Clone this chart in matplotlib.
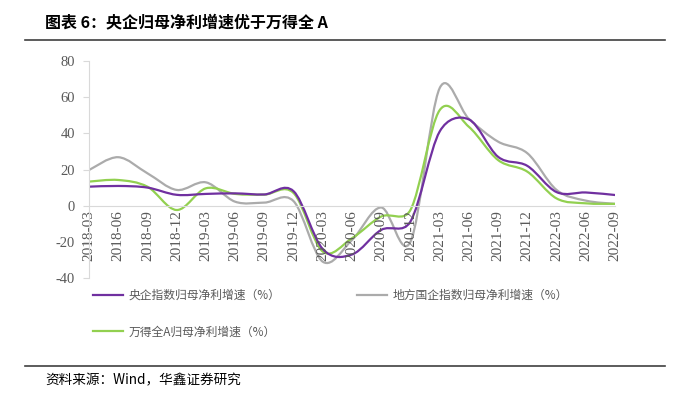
import matplotlib
matplotlib.use("Agg")
import matplotlib.pyplot as plt
from matplotlib.path import Path
from matplotlib.patches import PathPatch
from matplotlib.lines import Line2D
import numpy as np

plt.rcParams['font.family'] = ['Noto Sans CJK SC', 'DejaVu Sans']

quarters = ['2018-03', '2018-06', '2018-09', '2018-12', '2019-03', '2019-06',
            '2019-09', '2019-12', '2020-03', '2020-06', '2020-09', '2020-12',
            '2021-03', '2021-06', '2021-09', '2021-12', '2022-03', '2022-06',
            '2022-09']

central_soe = [10.5, 10.9, 10.0, 6.0, 6.5, 6.8, 6.2, 8.0, -24.0, -27.0, -13.4,
               -8.8, 41.0, 47.7, 27.0, 22.0, 7.5, 7.3, 5.9]
local_soe = [19.7, 26.8, 17.9, 8.7, 12.9, 2.2, 1.7, 2.5, -31.0, -19.0, -1.0,
             -20.0, 65.0, 48.0, 35.4, 29.0, 8.7, 2.8, 1.0]
wind_all_a = [13.3, 14.2, 10.5, -2.4, 9.6, 6.5, 6.1, 7.0, -25.4, -18.0, -6.0,
              -2.4, 52.8, 43.6, 25.2, 18.8, 4.0, 1.3, 1.0]

labels = ['央企指数归母净利增速（%）', '地方国企指数归母净利增速（%）',
          '万得全A归母净利增速（%）']
colors = ['#7030A0', '#ABABAB', '#92D050']

# pixel size of one category step and of one y unit, used to limit the smoothing
X_PX, Y_PX = 29.2, 1.81


def smooth_path(y):
    # Excel style smoothed line: bezier through the points, control arm at most half the segment
    x = np.arange(len(y), dtype=float)
    pts = np.column_stack([x, np.asarray(y, dtype=float)])
    padded = np.vstack([pts[0], pts, pts[-1]])
    scale = np.array([X_PX, Y_PX])

    def plen(v):
        return np.hypot(*(v * scale))

    verts = [pts[0]]
    codes = [Path.MOVETO]
    for i in range(len(pts) - 1):
        p0, p1, p2, p3 = padded[i], padded[i + 1], padded[i + 2], padded[i + 3]
        half = plen(p2 - p1) / 2.0
        a1 = (p2 - p0) / 6.0
        a2 = (p3 - p1) / 6.0
        if plen(a1) > half:
            a1 = a1 * half / plen(a1)
        if plen(a2) > half:
            a2 = a2 * half / plen(a2)
        verts += [p1 + a1, p2 - a2, p2]
        codes += [Path.CURVE4] * 3
    return Path(verts, codes)


fig = plt.figure(figsize=(6.81, 3.94), dpi=100)
ax = fig.add_axes([89 / 681, 1 - 278 / 394, (615 - 89) / 681, (278 - 61) / 394])

for series, c in zip([local_soe, wind_all_a, central_soe], [colors[1], colors[2], colors[0]]):
    ax.add_patch(PathPatch(smooth_path(series), fill=False, edgecolor=c, lw=1.6,
                           capstyle='round', joinstyle='round'))

# spine position first: moving it resets the tick labels
for s in ['top', 'right']:
    ax.spines[s].set_visible(False)
ax.spines['bottom'].set_position(('data', 0))
ax.spines['bottom'].set_color('#D9D9D9')
ax.spines['left'].set_color('#D9D9D9')

ax.set_xlim(0, len(quarters) - 1)
ax.set_ylim(-40, 80)
ax.set_yticks(range(-40, 81, 20))
ax.set_yticklabels([str(v) for v in range(-40, 81, 20)], family='Liberation Serif',
                   fontsize=10.5, color='#595959')
ax.set_xticks(range(len(quarters)))
ax.set_xticklabels(quarters, rotation=90, family='Liberation Serif', fontsize=11,
                   color='#595959')
ax.tick_params(axis='x', length=0, pad=3)
ax.tick_params(axis='y', length=4, color='#D9D9D9', pad=6)

handles = [Line2D([], [], color=c, lw=1.6) for c in colors]
order = [0, 2, 1]
fig.legend([handles[i] for i in order], [labels[i] for i in order], ncol=2,
           loc='upper left', bbox_to_anchor=(88 / 681, 1 - 284 / 394), frameon=False,
           fontsize=8.5, labelcolor='#595959', handlelength=2.6, handletextpad=0.4,
           columnspacing=6.5, labelspacing=2.0, borderaxespad=0)

fig.text(45 / 681, 1 - 22 / 394, '图表 6：央企归母净利增速优于万得全 A', fontsize=11.5,
         fontweight='bold', va='center', ha='left', color='#000000')
fig.add_artist(Line2D([25 / 681, 665 / 681], [1 - 40 / 394] * 2, color='#404040', lw=1.2))
fig.add_artist(Line2D([25 / 681, 665 / 681], [1 - 366 / 394] * 2, color='#404040', lw=1.2))
fig.text(45 / 681, 1 - 380 / 394, '资料来源：Wind，华鑫证券研究', fontsize=9.8,
         va='center', ha='left', color='#000000')

fig.savefig('out.png', dpi=100)
